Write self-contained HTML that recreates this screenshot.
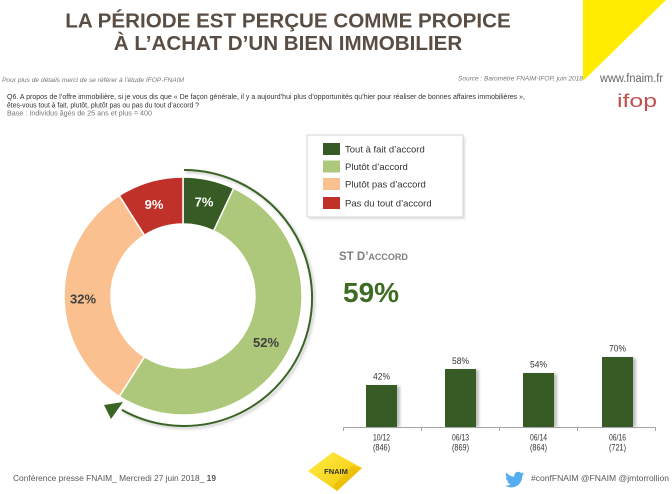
<!DOCTYPE html>
<html>
<head>
<meta charset="utf-8">
<style>
html,body{margin:0;padding:0;background:#fff;}
svg{display:block;}
text{font-family:"Liberation Sans",Arial,sans-serif;}
</style>
</head>
<body>
<svg width="672" height="494" viewBox="0 0 672 494" xmlns="http://www.w3.org/2000/svg">
<defs>
<filter id="blur1" x="-20%" y="-20%" width="140%" height="140%"><feGaussianBlur stdDeviation="1.2"/></filter>
<linearGradient id="yl" x1="0" y1="0" x2="1" y2="1">
<stop offset="0" stop-color="#fff04a"/><stop offset="1" stop-color="#f2c200"/>
</linearGradient>
</defs>
<rect width="672" height="494" fill="#fff"/>

<!-- yellow triangle -->
<polygon points="583,0 666,0 583,81" fill="#ffec00"/>

<!-- title -->
<text x="288" y="27.3" text-anchor="middle" font-size="20.6" font-weight="bold" fill="#5a4e44">LA PÉRIODE EST PERÇUE COMME PROPICE</text>
<text x="288" y="50" text-anchor="middle" font-size="20.6" font-weight="bold" fill="#5a4e44">À L’ACHAT D’UN BIEN IMMOBILIER</text>

<!-- header small texts -->
<text x="2" y="82" font-size="6.5" font-style="italic" fill="#777" textLength="182" lengthAdjust="spacingAndGlyphs">Pour plus de détails merci de se référer à l’étude IFOP-FNAIM</text>
<text x="458" y="80.5" font-size="6.5" font-style="italic" fill="#777" textLength="125" lengthAdjust="spacingAndGlyphs">Source : Baromètre FNAIM-IFOP, juin 2018</text>
<text x="600" y="82" font-size="11.5" fill="#666" textLength="63" lengthAdjust="spacingAndGlyphs">www.fnaim.fr</text>
<text x="617" y="107" font-size="18" fill="#c0504d" textLength="40" lengthAdjust="spacingAndGlyphs">ifop</text>

<text x="7" y="99" font-size="7" fill="#333" textLength="518" lengthAdjust="spacingAndGlyphs">Q6. A propos de l’offre immobilière, si je vous dis que « De façon générale, il y a aujourd’hui plus d’opportunités qu’hier pour réaliser de bonnes affaires immobilières »,</text>
<text x="7" y="107.5" font-size="7" fill="#333" textLength="192" lengthAdjust="spacingAndGlyphs">êtes-vous tout à fait, plutôt, plutôt pas ou pas du tout d’accord ?</text>
<text x="7" y="115.5" font-size="7" fill="#777" textLength="145" lengthAdjust="spacingAndGlyphs">Base : Individus âgés de 25 ans et plus = 400</text>

<!-- donut -->
<g stroke="#fff" stroke-width="1.5">
<path d="M183,177 A119,119 0 0 1 233.67,188.33 L213.66,230.85 A72,72 0 0 0 183,224 Z" fill="#375b24"/>
<path d="M233.67,188.33 A119,119 0 1 1 119.24,396.47 L144.42,356.79 A72,72 0 1 0 213.66,230.85 Z" fill="#adc87a"/>
<path d="M119.24,396.47 A119,119 0 0 1 119.24,195.53 L144.42,235.21 A72,72 0 0 0 144.42,356.79 Z" fill="#fac090"/>
<path d="M119.24,195.53 A119,119 0 0 1 183,177 L183,224 A72,72 0 0 0 144.42,235.21 Z" fill="#bf3129"/>
</g>
<text x="204" y="206.5" text-anchor="middle" font-size="13" font-weight="bold" fill="#fff">7%</text>
<text x="154" y="209" text-anchor="middle" font-size="13" font-weight="bold" fill="#fff">9%</text>
<text x="83" y="303.5" text-anchor="middle" font-size="13" font-weight="bold" fill="#404040">32%</text>
<text x="266" y="347" text-anchor="middle" font-size="13" font-weight="bold" fill="#404040">52%</text>

<!-- arc arrow -->
<path d="M186,172 A128,128 0 1 1 123.9,411.9" fill="none" stroke="#999" stroke-width="2.5" opacity="0.45" filter="url(#blur1)"/>
<path d="M184,170 A128,128 0 1 1 121.9,409.9" fill="none" stroke="#3a6424" stroke-width="2"/>
<polygon points="104,405 123,402 111,419" fill="#3a6424"/>

<!-- legend -->
<rect x="309" y="137" width="156" height="82" fill="#ddd" filter="url(#blur1)"/>
<rect x="307" y="135" width="156" height="82" fill="#fff" stroke="#d6d6d6" stroke-width="1"/>
<rect x="323" y="143" width="17" height="12" fill="#375b24"/>
<rect x="323" y="160.5" width="17" height="12" fill="#adc87a"/>
<rect x="323" y="178" width="17" height="12" fill="#fac090"/>
<rect x="323" y="197" width="17" height="12" fill="#bf3129"/>
<g font-size="9.5" fill="#333">
<text x="345" y="152.5">Tout à fait d’accord</text>
<text x="345" y="170">Plutôt d’accord</text>
<text x="345" y="187.5">Plutôt pas d’accord</text>
<text x="345" y="206.5">Pas du tout d’accord</text>
</g>

<!-- ST D'ACCORD -->
<text x="339" y="260" font-weight="bold" fill="#7f7f7f"><tspan font-size="11.5">ST D’</tspan><tspan font-size="9">ACCORD</tspan></text>
<text x="343" y="302" font-size="28" font-weight="bold" fill="#3d6b22">59%</text>

<!-- bar chart -->
<g fill="#8a8a8a" opacity="0.55" filter="url(#blur1)">
<rect x="369" y="386" width="31" height="41"/>
<rect x="448" y="370" width="31" height="57"/>
<rect x="526" y="374" width="31" height="53"/>
<rect x="605" y="358" width="31" height="69"/>
</g>
<g fill="#375b24">
<rect x="366" y="385" width="31" height="42"/>
<rect x="445" y="369" width="31" height="58"/>
<rect x="523" y="373" width="31" height="54"/>
<rect x="602" y="357" width="31" height="70"/>
</g>
<line x1="343" y1="427.5" x2="655" y2="427.5" stroke="#a6a6a6" stroke-width="1"/>
<g stroke="#a6a6a6" stroke-width="1">
<line x1="343.5" y1="427" x2="343.5" y2="431"/>
<line x1="421.5" y1="427" x2="421.5" y2="431"/>
<line x1="499.5" y1="427" x2="499.5" y2="431"/>
<line x1="577.5" y1="427" x2="577.5" y2="431"/>
<line x1="655.5" y1="427" x2="655.5" y2="431"/>
</g>
<g font-size="9" fill="#333" text-anchor="middle">
<text x="381.5" y="379.5" textLength="17" lengthAdjust="spacingAndGlyphs">42%</text>
<text x="460.5" y="364" textLength="17" lengthAdjust="spacingAndGlyphs">58%</text>
<text x="538.5" y="367.5" textLength="17" lengthAdjust="spacingAndGlyphs">54%</text>
<text x="617.5" y="351.5" textLength="17" lengthAdjust="spacingAndGlyphs">70%</text>
<text x="381.5" y="440.5" textLength="17" lengthAdjust="spacingAndGlyphs">10/12</text>
<text x="460.5" y="440.5" textLength="17" lengthAdjust="spacingAndGlyphs">06/13</text>
<text x="538.5" y="440.5" textLength="17" lengthAdjust="spacingAndGlyphs">06/14</text>
<text x="617.5" y="440.5" textLength="17" lengthAdjust="spacingAndGlyphs">06/16</text>
<text x="381.5" y="450.5" textLength="17" lengthAdjust="spacingAndGlyphs">(846)</text>
<text x="460.5" y="450.5" textLength="17" lengthAdjust="spacingAndGlyphs">(869)</text>
<text x="538.5" y="450.5" textLength="17" lengthAdjust="spacingAndGlyphs">(864)</text>
<text x="617.5" y="450.5" textLength="17" lengthAdjust="spacingAndGlyphs">(721)</text>
</g>

<!-- footer -->
<text x="13" y="481" font-size="8.5" fill="#595959" textLength="203" lengthAdjust="spacingAndGlyphs">Conférence presse FNAIM_ Mercredi 27 juin 2018_ <tspan font-weight="bold">19</tspan></text>

<polygon points="308,471 333,452 362,468 337,491" fill="url(#yl)"/>
<polygon points="337,491 362,468 352,466 333,486" fill="#e8b800" opacity="0.6"/>
<text x="336" y="474" text-anchor="middle" font-size="7.5" font-weight="bold" fill="#333">FNAIM</text>

<path transform="translate(505,470) scale(0.8)" fill="#55acee" d="M23.953 4.57a10 10 0 01-2.825.775 4.958 4.958 0 002.163-2.723c-.951.555-2.005.959-3.127 1.184a4.92 4.92 0 00-8.384 4.482C7.69 8.095 4.067 6.130 1.64 3.162a4.822 4.822 0 00-.666 2.475c0 1.71.87 3.213 2.188 4.096a4.904 4.904 0 01-2.228-.616v.06a4.923 4.923 0 003.946 4.827 4.996 4.996 0 01-2.212.085 4.936 4.936 0 004.604 3.417 9.867 9.867 0 01-6.102 2.105c-.39 0-.779-.023-1.170-.067a13.995 13.995 0 007.557 2.209c9.053 0 13.998-7.496 13.998-13.985 0-.21 0-.42-.015-.63A9.935 9.935 0 0024 4.590z"/>
<text x="531" y="481" font-size="8.5" fill="#595959" textLength="138" lengthAdjust="spacingAndGlyphs">#confFNAIM @FNAIM @jmtorrollion</text>
</svg>
</body>
</html>
